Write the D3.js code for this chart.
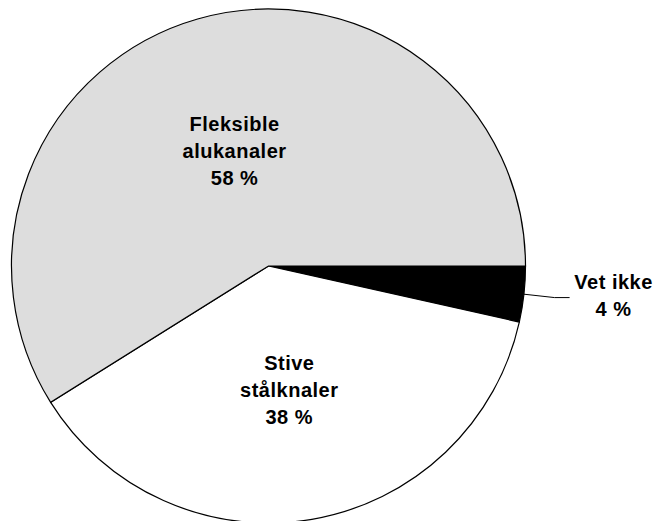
<!DOCTYPE html>
<html>
<head>
<meta charset="utf-8">
<script src="https://cdn.jsdelivr.net/npm/d3@7"></script>
<style>
    body { margin: 0; background: #fff; }
    text { font-family: "Liberation Sans", Arial, sans-serif; font-weight: bold; font-size: 20px; fill: #000; }
</style>
</head>
<body>
<div id="chart"></div>
<script>
'use strict';

// slices, clockwise from 3 o'clock
const categories = ["Vet ikke", "Stive stålknaler", "Fleksible alukanaler"];
const labelLines = [["Vet ikke"], ["Stive", "stålknaler"], ["Fleksible", "alukanaler"]];
const values = [3.5, 37.6, 58.9];
const pctLabels = ["4 %", "38 %", "58 %"];
const colors = ["#000000", "#ffffff", "#dddddd"];

const w = 656, h = 521;
const cx = 268.5, cy = 266, r = 257;

const svg = d3.select("#chart")
    .append("svg")
    .attr("width", w)
    .attr("height", h);

const g = svg.append("g").attr("transform", `translate(${cx},${cy})`);

const pie = d3.pie()
    .sort(null)
    .value(d => d)
    .startAngle(Math.PI / 2)
    .endAngle(Math.PI / 2 + 2 * Math.PI);

const arcs = pie(values);

const arc = d3.arc().innerRadius(0).outerRadius(r);
const labelArc = d3.arc().innerRadius(123).outerRadius(123);

g.selectAll("path.slice")
    .data(arcs)
    .enter()
    .append("path")
    .attr("class", "slice")
    .attr("d", arc)
    .attr("fill", (d, i) => colors[i])
    .attr("stroke", "#000")
    .attr("stroke-width", 1.2);

const lineH = 27;

arcs.forEach((d, i) => {
    const lines = labelLines[i].concat([pctLabels[i]]);
    const mid = (d.startAngle + d.endAngle) / 2;
    let x, y, baseOff;
    if (i === 0) {
        // outside label with leader line
        const p0 = [Math.sin(mid) * r, -Math.cos(mid) * r];
        const p1 = [Math.sin(mid) * r * 1.12, -Math.cos(mid) * r * 1.12];
        const p2 = [p1[0] + 15, p1[1]];
        g.append("polyline")
            .attr("points", [p0, p1, p2].map(p => p.join(",")).join(" "))
            .attr("fill", "none")
            .attr("stroke", "#000")
            .attr("stroke-width", 1);
        x = p2[0] + 44;
        y = p2[1];
        baseOff = -8.5;
    } else {
        [x, y] = labelArc.centroid(d);
        baseOff = 10 - (lines.length - 1) / 2 * lineH;
    }
    const t = g.append("text")
        .attr("text-anchor", "middle")
        .attr("letter-spacing", "0.5px");
    lines.forEach((s, j) => {
        t.append("tspan")
            .attr("x", x)
            .attr("y", y + baseOff + j * lineH)
            .text(s);
    });
});
</script>
</body>
</html>
